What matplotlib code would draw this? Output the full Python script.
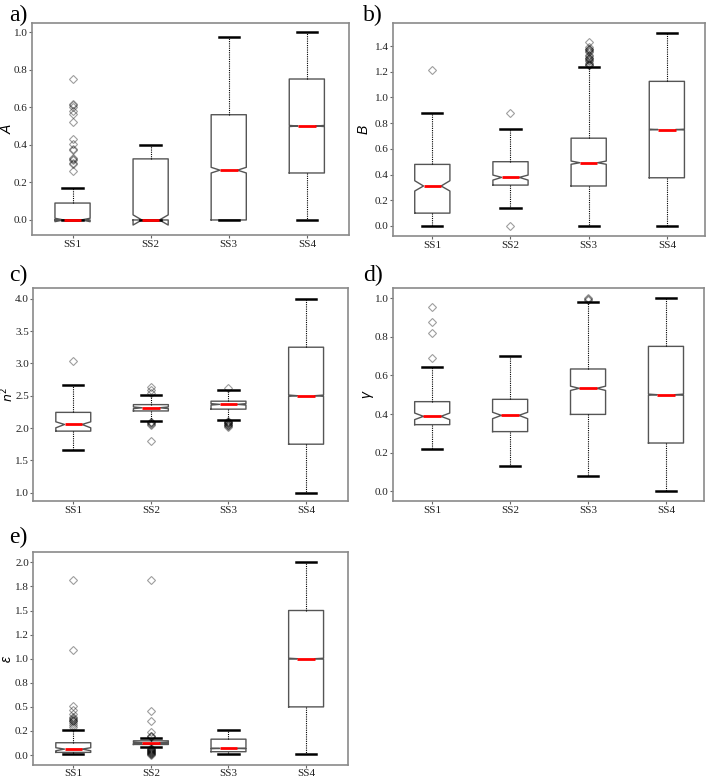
import matplotlib
matplotlib.use("Agg")
import matplotlib.pyplot as plt

plt.rcParams['font.family'] = ['Liberation Serif', 'DejaVu Serif']
plt.rcParams['mathtext.fontset'] = 'dejavusans'

CATEGORIES = ['SS1', 'SS2', 'SS3', 'SS4']

# ---- panel a) A ----
A_q1 = [0.0, 0.0, 0.0, 0.25]
A_med = [0.0, 0.0, 0.265, 0.5]
A_q3 = [0.09, 0.325, 0.56, 0.75]
A_whislo = [0.0, 0.0, 0.0, 0.0]
A_whishi = [0.17, 0.40, 0.975, 1.0]
A_cilo = [-0.009, -0.027, 0.25, 0.497]
A_cihi = [0.009, 0.027, 0.28, 0.503]
A_fliers = [[0.26, 0.296, 0.304, 0.319, 0.327, 0.33, 0.372, 0.375, 0.402, 0.43,
             0.52, 0.566, 0.579, 0.602, 0.611, 0.619, 0.749], [], [], []]

# ---- panel b) B ----
B_q1 = [0.10, 0.318, 0.311, 0.375]
B_med = [0.311, 0.378, 0.492, 0.75]
B_q3 = [0.479, 0.50, 0.683, 1.125]
B_whislo = [0.0, 0.137, 0.0, 0.0]
B_whishi = [0.88, 0.756, 1.24, 1.5]
B_cilo = [0.272, 0.357, 0.48, 0.747]
B_cihi = [0.352, 0.396, 0.505, 0.753]
B_fliers = [[1.211], [0.0, 0.88],
            [1.25, 1.255, 1.26, 1.27, 1.28, 1.29, 1.30, 1.305, 1.31, 1.32, 1.33,
             1.35, 1.36, 1.37, 1.375, 1.38, 1.39, 1.431], []]

# ---- panel c) n^2 ----
C_q1 = [1.952, 2.264, 2.292, 1.75]
C_med = [2.055, 2.313, 2.366, 2.5]
C_q3 = [2.242, 2.362, 2.415, 3.25]
C_whislo = [1.667, 2.115, 2.13, 1.0]
C_whishi = [2.666, 2.505, 2.59, 4.0]
C_cilo = [2.003, 2.300, 2.355, 2.49]
C_cihi = [2.096, 2.326, 2.377, 2.51]
C_fliers = [[3.043],
            [1.80, 2.045, 2.06, 2.075, 2.09, 2.10, 2.545, 2.59, 2.63],
            [2.018, 2.03, 2.04, 2.05, 2.06, 2.07, 2.08, 2.09, 2.10, 2.11, 2.62], []]

# ---- panel d) gamma ----
D_q1 = [0.345, 0.309, 0.398, 0.25]
D_med = [0.388, 0.393, 0.533, 0.5]
D_q3 = [0.464, 0.476, 0.633, 0.75]
D_whislo = [0.221, 0.133, 0.078, 0.0]
D_whishi = [0.643, 0.702, 0.979, 1.0]
D_cilo = [0.371, 0.376, 0.522, 0.497]
D_cihi = [0.405, 0.409, 0.544, 0.503]
D_fliers = [[0.69, 0.821, 0.874, 0.952], [], [0.99, 0.995, 1.0], []]

# ---- panel e) epsilon ----
E_q1 = [0.028, 0.110, 0.035, 0.5]
E_med = [0.062, 0.128, 0.069, 1.0]
E_q3 = [0.128, 0.148, 0.165, 1.5]
E_whislo = [0.014, 0.085, 0.007, 0.007]
E_whishi = [0.265, 0.179, 0.265, 2.0]
E_cilo = [0.045, 0.123, 0.066, 0.995]
E_cihi = [0.076, 0.133, 0.072, 1.005]
E_fliers = [[0.293, 0.31, 0.337, 0.35, 0.358, 0.365, 0.37, 0.38, 0.395, 0.43,
             0.464, 0.509, 1.089, 1.814],
            [0.005, 0.01, 0.015, 0.02, 0.025, 0.03, 0.035, 0.04, 0.045, 0.05,
             0.055, 0.06, 0.065, 0.07, 0.19, 0.195, 0.2, 0.241, 0.354, 0.457, 1.814],
            [], []]

A_ticks = [0.0, 0.2, 0.4, 0.6, 0.8, 1.0]
B_ticks = [0.0, 0.2, 0.4, 0.6, 0.8, 1.0, 1.2, 1.4]
C_ticks = [1.0, 1.5, 2.0, 2.5, 3.0, 3.5, 4.0]
D_ticks = [0.0, 0.2, 0.4, 0.6, 0.8, 1.0]
E_ticks = [0.0, 0.25, 0.5, 0.75, 1.0, 1.25, 1.5, 1.75, 2.0]
E_ticklabels = ['0.0', '0.2', '0.5', '0.8', '1.0', '1.2', '1.5', '1.8', '2.0']

W, H = 708, 779
fig = plt.figure(figsize=(W / 100, H / 100), dpi=100)


def make_ax(l, t, r, b):
    return fig.add_axes([l / W, 1 - b / H, (r - l) / W, (b - t) / H])


def panel(ax, q1, med, q3, wlo, whi, cilo, cihi, fliers, ylim, xlim, ticks,
          ticklabels, ylabel, labx, letter, lx, ly, xpad=1.6, labsize=10):
    stats = []
    for i in range(len(CATEGORIES)):
        stats.append(dict(q1=q1[i], med=med[i], q3=q3[i], whislo=wlo[i],
                          whishi=whi[i], cilo=cilo[i], cihi=cihi[i],
                          fliers=fliers[i], label=CATEGORIES[i]))
    ax.bxp(stats, positions=[1, 2, 3, 4], widths=0.45, capwidths=0.26,
           shownotches=True,
           boxprops=dict(color='#555555', linewidth=1.0),
           whiskerprops=dict(color='black', linestyle=(0, (1, 1)), linewidth=0.8),
           capprops=dict(color='black', linewidth=1.8),
           medianprops=dict(color='red', linewidth=2.0),
           flierprops=dict(marker='D', markerfacecolor='none',
                           markeredgecolor=(0, 0, 0, 0.38), markersize=4.2,
                           markeredgewidth=0.8, linestyle='none'))
    ax.set_xlim(*xlim)
    ax.set_ylim(*ylim)
    ax.set_yticks(ticks)
    if ticklabels is None:
        ticklabels = ['%.1f' % v for v in ticks]
    ax.set_yticklabels(ticklabels)
    ax.set_xticks([1, 2, 3, 4])
    ax.set_xticklabels(CATEGORIES)
    for s in ax.spines.values():
        s.set_color('#8a8a8a')
        s.set_linewidth(1.2)
    ax.tick_params(length=2, width=0.8, color='#666666', labelsize=8,
                   labelcolor='#222222', pad=1)
    ax.tick_params(axis='x', pad=xpad)
    ax.set_ylabel(ylabel, fontsize=labsize,
                  family=['Liberation Sans', 'DejaVu Sans'], style='italic')
    ax.yaxis.set_label_coords(labx, 0.5)
    fig.text(lx / W, 1 - ly / H, letter, fontsize=17, ha='left', va='center',
             family=['Liberation Serif'])


XL = (0.481, 4.54)
XR = (0.497, 4.488)

axa = make_ax(32, 23, 349, 235)
panel(axa, A_q1, A_med, A_q3, A_whislo, A_whishi, A_cilo, A_cihi, A_fliers,
      (-0.08, 1.048), XL, A_ticks, None, 'A', -0.055, 'a)', 9, 15)

axb = make_ax(393, 23, 705, 236)
panel(axb, B_q1, B_med, B_q3, B_whislo, B_whishi, B_cilo, B_cihi, B_fliers,
      (-0.078, 1.579), XR, B_ticks, None, 'B', -0.072, 'b)', 363, 15)

axc = make_ax(33, 288, 348, 501)
panel(axc, C_q1, C_med, C_q3, C_whislo, C_whishi, C_cilo, C_cihi, C_fliers,
      (0.871, 4.166), XL, C_ticks, None, r'$n^2$', -0.054, 'c)', 9, 275,
      labsize=9)

axd = make_ax(393, 288, 704, 501)
panel(axd, D_q1, D_med, D_q3, D_whislo, D_whishi, D_cilo, D_cihi, D_fliers,
      (-0.05, 1.052), XR, D_ticks, None, 'γ', -0.064, 'd)', 363, 275)

axe = make_ax(33, 552, 348, 765)
panel(axe, E_q1, E_med, E_q3, E_whislo, E_whishi, E_cilo, E_cihi, E_fliers,
      (-0.103, 2.107), XL, E_ticks, E_ticklabels, 'ε', -0.06, 'e)', 9, 537,
      xpad=0.6)

fig.savefig('out.png', dpi=100)
